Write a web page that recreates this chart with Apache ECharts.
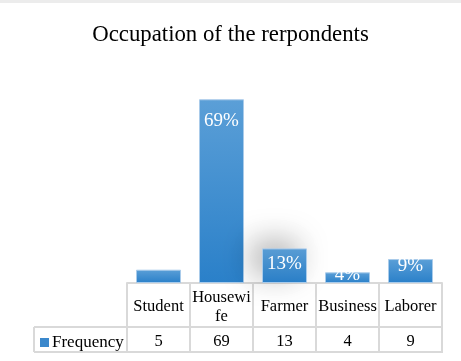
<!DOCTYPE html>
<html><head><meta charset="utf-8">
<script src="https://cdn.jsdelivr.net/npm/echarts@6/dist/echarts.min.js"></script>
<style>html,body{margin:0;padding:0;background:#fff}#c{width:461px;height:361px}</style>
</head><body><div id="c"></div>
<script>
const titleText = 'Occupation of the rerpondents';
const categories = ['Student', 'Housewife', 'Farmer', 'Business', 'Laborer'];
const frequency = [5, 69, 13, 4, 9];
const seriesName = 'Frequency';

const chart = echarts.init(document.getElementById('c'), null, {renderer: 'canvas'});
const serif = '"Liberation Serif","Times New Roman",serif';
const gL = 127, gR = 19, gB = 78, gT = 70;
const W = 461, H = 361;
const baseY = H - gB;          // 283
const row1Y = baseY + 44;      // 327
const row2Y = baseY + 69;      // 352
const legendLeftX = 34;
const lineCol = '#d9d9d9';
const labelShift = [-26, 7, 1, -12, -8];

const barGrad = new echarts.graphic.LinearGradient(0, 0, 0, 1, [
  {offset: 0, color: '#5b9fd7'},
  {offset: 1, color: '#2a80c9'}
]);

const option = {
  animation: false,
  backgroundColor: '#fff',
  title: {
    text: titleText, left: 'center', top: 19,
    textStyle: {fontFamily: serif, fontSize: 22.8, fontWeight: 'normal', color: '#000'}
  },
  legend: {
    left: 35, top: 329, itemWidth: 9, itemHeight: 9, icon: 'rect', itemGap: 4,
    data: [{name: seriesName, itemStyle: {color: '#3b88cc', borderWidth: 0}}],
    textStyle: {fontFamily: serif, fontSize: 17, color: '#000', padding: [0, 0, 0, -2]}
  },
  grid: {left: gL, right: gR, top: gT, bottom: gB, containLabel: false},
  xAxis: [{
    type: 'category', data: categories, position: 'bottom',
    axisLine: {show: true, lineStyle: {color: lineCol, width: 2}},
    axisTick: {show: true, length: 69, lineStyle: {color: lineCol, width: 2}},
    axisLabel: {
      fontFamily: serif, fontSize: 16.5, color: '#000', margin: 24,
      verticalAlign: 'middle', lineHeight: 19, interval: 0,
      formatter: v => v === 'Housewife' ? 'Housewi\nfe' : v
    }
  }, {
    type: 'category', data: frequency.map(String), position: 'bottom',
    axisLine: {show: false}, axisTick: {show: false},
    axisLabel: {fontFamily: serif, fontSize: 16.5, color: '#000', margin: 59, verticalAlign: 'middle', interval: 0}
  }],
  yAxis: {type: 'value', min: 0, max: 80, show: false, splitLine: {show: false}},
  series: [{
    name: seriesName, type: 'bar', xAxisIndex: 0, barWidth: 45,
    itemStyle: {color: barGrad, borderColor: '#a9cbea', borderWidth: 1},
    label: {
      show: true, position: 'insideTop', formatter: '{c}%',
      fontFamily: serif, fontSize: 19, color: '#fff'
    },
    data: frequency.map((v, i) => {
      const d = {value: v, label: {offset: [0, labelShift[i]]}};
      if (categories[i] === 'Farmer') {
        d.itemStyle = {shadowBlur: 30, shadowColor: 'rgba(0,0,0,0.3)', shadowOffsetX: -10, shadowOffsetY: -8};
      }
      return d;
    })
  }],
  graphic: [
    {type: 'rect', shape: {x: 0, y: 0, width: W, height: 3}, style: {fill: '#ececec'}, z: 100},
    {type: 'line', shape: {x1: legendLeftX, y1: row1Y, x2: W - gR + 1, y2: row1Y}, style: {stroke: lineCol, lineWidth: 2}},
    {type: 'line', shape: {x1: legendLeftX, y1: row2Y, x2: W - gR + 1, y2: row2Y}, style: {stroke: lineCol, lineWidth: 2}},
    {type: 'line', shape: {x1: legendLeftX, y1: row1Y, x2: legendLeftX, y2: row2Y}, style: {stroke: lineCol, lineWidth: 2}}
  ]
};
chart.setOption(option);
</script></body></html>
